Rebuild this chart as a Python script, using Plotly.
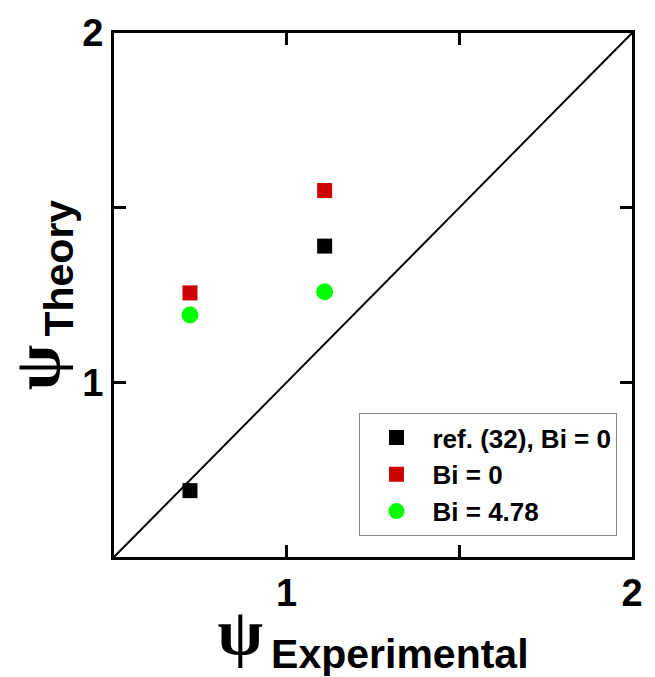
import plotly.graph_objects as go

# Measured vs. predicted psi values
psi_exp = [0.72, 1.11]
psi_ref32 = [0.69, 1.39]
psi_bi0 = [1.256, 1.549]
psi_bi478 = [1.193, 1.259]

axis_range = [0.5, 2.0]
major_ticks = [1, 2]
minor_ticks = [1.5]

series_names = ["ref. (32), Bi = 0", "Bi = 0", "Bi = 4.78"]

fig = go.Figure()

# y = x parity line
fig.add_trace(go.Scatter(
    x=axis_range, y=axis_range, mode="lines",
    line=dict(color="black", width=2), showlegend=False, hoverinfo="skip",
))

fig.add_trace(go.Scatter(
    x=psi_exp, y=psi_ref32, mode="markers", name=series_names[0],
    marker=dict(symbol="square", size=15, color="#000000"),
))
fig.add_trace(go.Scatter(
    x=psi_exp, y=psi_bi0, mode="markers", name=series_names[1],
    marker=dict(symbol="square", size=15, color="#CC0000"),
))
fig.add_trace(go.Scatter(
    x=psi_exp, y=psi_bi478, mode="markers", name=series_names[2],
    marker=dict(symbol="circle", size=17, color="#00FF00"),
))

tick_font = dict(family="Liberation Sans", size=38, color="black", weight="bold")
title_font = dict(family="Liberation Sans", size=66, color="black", weight="bold")

def psi_title(sub):
    return ('<span style="font-family:\'Liberation Serif\'">ψ</span>'
            '<sub><span style="font-size:41px">\u2009' + sub + '</span></sub>')

axis_common = dict(
    range=axis_range, tickmode="array", tickvals=major_ticks,
    showline=True, linewidth=3, linecolor="black", mirror="ticks",
    ticks="inside", ticklen=12, tickwidth=3, tickcolor="black",
    minor=dict(tickmode="array", tickvals=minor_ticks, ticks="inside",
               ticklen=12, tickwidth=3, tickcolor="black", showgrid=False),
    showgrid=False, zeroline=False, tickfont=tick_font,
)

fig.update_layout(
    width=655, height=677,
    margin=dict(l=114, r=18, t=33, b=120),
    plot_bgcolor="white", paper_bgcolor="white",
    xaxis=dict(**axis_common, title=dict(text=psi_title("Experimental"), font=title_font, standoff=2)),
    yaxis=dict(**axis_common, title=dict(text=psi_title("Theory"), font=title_font, standoff=20)),
    legend=dict(
        x=0.972, y=0.040, xanchor="right", yanchor="bottom",
        bgcolor="white", bordercolor="#888888", borderwidth=1,
        font=dict(family="Liberation Sans", size=26, color="black", weight="bold"),
        itemwidth=62, tracegroupgap=0,
    ),
    showlegend=True,
)

fig.write_html("out.html")
